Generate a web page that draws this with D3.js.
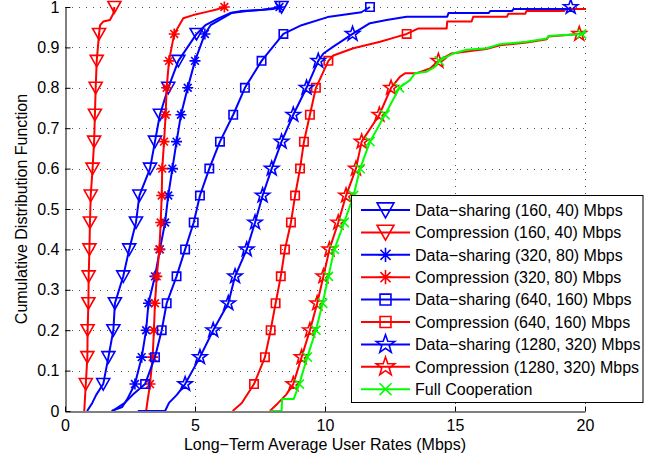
<!DOCTYPE html>
<html>
<head>
<meta charset="utf-8">
<script src="https://cdn.jsdelivr.net/npm/d3@7"></script>
<style>
  body { margin: 0; background: #fff; }
  text { font-family: "Liberation Sans", Arial, Helvetica, sans-serif; }
</style>
</head>
<body>
<div id="cdf"></div>
<script>
// cdf levels where the markers sit (every 10th user out of 150)
var levels = [0, 1/15, 2/15, 3/15, 4/15, 5/15, 6/15, 7/15, 8/15, 9/15, 10/15, 11/15, 12/15, 13/15, 14/15, 15/15];

// tick values
var xTicks = [0, 5, 10, 15, 20];
var yTicks = [0, 0.1, 0.2, 0.3, 0.4, 0.5, 0.6, 0.7, 0.8, 0.9, 1];
var yTickLabels = ["0", "0.1", "0.2", "0.3", "0.4", "0.5", "0.6", "0.7", "0.8", "0.9", "1"];

// legend names
var names = [
    "Data\u2212sharing (160, 40) Mbps",
    "Compression (160, 40) Mbps",
    "Data\u2212sharing (320, 80) Mbps",
    "Compression (320, 80) Mbps",
    "Data\u2212sharing (640, 160) Mbps",
    "Compression (640, 160) Mbps",
    "Data\u2212sharing (1280, 320) Mbps",
    "Compression (1280, 320) Mbps",
    "Full Cooperation"
];

// rate (Mbps) reached at each cdf level, one array per curve
var dsh160 = [0.85, 1.47, 1.67, 1.86, 1.92, 2.24, 2.47, 2.73, 2.86, 3.27, 3.46, 3.65, 3.97, 4.36, 5.06, 8.33];
var cmp160 = [0.74, 0.80, 0.86, 0.87, 0.90, 0.91, 0.94, 0.96, 0.99, 1.06, 1.12, 1.15, 1.18, 1.22, 1.31, 1.90];
var dsh320 = [1.79, 2.69, 2.95, 3.12, 3.21, 3.46, 3.65, 3.85, 3.97, 4.13, 4.29, 4.46, 4.72, 5.00, 5.38, 8.25];
var cmp320 = [3.12, 3.27, 3.37, 3.42, 3.46, 3.53, 3.63, 3.68, 3.72, 3.74, 3.81, 3.87, 3.91, 4.00, 4.20, 6.13];
var dsh640 = [1.82, 3.08, 3.46, 3.72, 3.91, 4.29, 4.62, 4.95, 5.19, 5.55, 5.96, 6.47, 6.92, 7.56, 8.40, 11.73];
var cmp640 = [6.45, 7.27, 7.69, 7.91, 8.10, 8.30, 8.46, 8.69, 8.85, 9.04, 9.19, 9.42, 9.65, 10.13, 13.14, 21.0];
var dsh1280 = [2.80, 4.62, 5.19, 5.70, 6.28, 6.54, 6.99, 7.31, 7.60, 7.95, 8.33, 8.78, 9.29, 9.74, 11.06, 19.45];
var cmp1280 = [7.88, 8.78, 9.10, 9.42, 9.70, 9.94, 10.17, 10.51, 10.81, 11.19, 11.41, 12.09, 12.54, 14.36, 19.78, 21.0];
var fullCoop = [7.90, 9.01, 9.32, 9.65, 9.91, 10.13, 10.36, 10.74, 11.10, 11.35, 11.73, 12.31, 12.86, 14.40, 19.87, 21.0];

// extra staircase breakpoints [rate, cdf] between the marker levels
var dsh160Extra = [[1.05, 0.02], [1.2, 0.04], [5.4, 0.955], [5.9, 0.972], [6.35, 0.985], [6.8, 0.99], [7.6, 0.993]];
var cmp160Extra = [[1.35, 0.955], [1.47, 0.964], [1.73, 0.968], [1.86, 0.984]];
var dsh320Extra = [[2.2, 0.01], [2.4, 0.03], [5.6, 0.955], [6.0, 0.97], [6.4, 0.985], [7.0, 0.99], [8.0, 0.995]];
var cmp320Extra = [[4.55, 0.972], [4.93, 0.98], [5.45, 0.988], [5.83, 0.994]];
var dsh640Extra = [[2.3, 0.02], [2.6, 0.04], [9.1, 0.955], [10.1, 0.975], [11.4, 0.987]];
var cmp640Extra = [[6.8, 0.02], [10.32, 0.88], [11.09, 0.898], [12.12, 0.914], [12.76, 0.926], [13.6, 0.947],
    [14.68, 0.947], [14.7, 0.964], [15.64, 0.964], [15.7, 0.976], [17.0, 0.976], [17.05, 0.983], [17.7, 0.983],
    [17.75, 0.99], [19.2, 0.99], [19.25, 0.995], [20.5, 0.995]];
var dsh1280Extra = [[3.85, 0], [4.0, 0.02], [4.3, 0.04], [9.94, 0.885], [10.32, 0.902], [10.7, 0.918],
    [11.73, 0.96], [12.37, 0.968], [13.14, 0.976], [14.7, 0.976], [14.75, 0.985], [16.3, 0.985], [16.35, 0.99],
    [17.2, 0.99], [17.25, 0.995], [19.4, 0.995]];
var cmp1280Extra = [[8.2, 0.02], [8.5, 0.04], [12.88, 0.827], [13.08, 0.836], [13.53, 0.836], [14.04, 0.848],
    [14.87, 0.885], [15.45, 0.89], [16.2, 0.896], [16.73, 0.905], [17.76, 0.912], [18.53, 0.92], [18.6, 0.927], [20.5, 0.95]];
var fullCoopExtra = [[8.33, 0], [8.35, 0.03], [8.8, 0.03], [13.27, 0.819], [13.46, 0.836], [13.91, 0.84], [14.23, 0.852],
    [14.94, 0.885], [15.45, 0.894], [16.22, 0.898], [16.73, 0.908], [17.76, 0.914], [18.53, 0.922], [18.59, 0.928], [20.5, 0.95]];

// curve table built from the arrays above
var curves = [
    { name: names[0], rates: dsh160, extra: dsh160Extra, color: "#0000ff", marker: "tri" },
    { name: names[1], rates: cmp160, extra: cmp160Extra, color: "#ff0000", marker: "tri" },
    { name: names[2], rates: dsh320, extra: dsh320Extra, color: "#0000ff", marker: "ast" },
    { name: names[3], rates: cmp320, extra: cmp320Extra, color: "#ff0000", marker: "ast" },
    { name: names[4], rates: dsh640, extra: dsh640Extra, color: "#0000ff", marker: "sq" },
    { name: names[5], rates: cmp640, extra: cmp640Extra, color: "#ff0000", marker: "sq" },
    { name: names[6], rates: dsh1280, extra: dsh1280Extra, color: "#0000ff", marker: "star" },
    { name: names[7], rates: cmp1280, extra: cmp1280Extra, color: "#ff0000", marker: "star" },
    { name: names[8], rates: fullCoop, extra: fullCoopExtra, color: "#00ff00", marker: "x" }
];

// size of the page and the axes box
var width = 667, height = 457;
var plot = { left: 65, right: 585, top: 7, bottom: 411 };

var svg = d3.select("#cdf")
    .append("svg")
    .attr("width", width)
    .attr("height", height);

var x = d3.scaleLinear().domain([0, 20]).range([plot.left, plot.right]);
var y = d3.scaleLinear().domain([0, 1]).range([plot.bottom, plot.top]);

// marker shapes, s scales them
function markerPath(type, s) {
    var p = d3.path();
    if (type === "tri") {
        p.moveTo(-6.5 * s, -5.5 * s); p.lineTo(6.5 * s, -5.5 * s); p.lineTo(0, 6 * s); p.closePath();
    } else if (type === "sq") {
        var h = 4.2 * s;
        p.rect(-h, -h, 2 * h, 2 * h);
    } else if (type === "ast") {
        var r = 5.5 * s, d = r * 0.707;
        p.moveTo(-r, 0); p.lineTo(r, 0);
        p.moveTo(0, -r); p.lineTo(0, r);
        p.moveTo(-d, -d); p.lineTo(d, d);
        p.moveTo(-d, d); p.lineTo(d, -d);
    } else if (type === "star") {
        for (var i = 0; i < 10; i++) {
            var rad = (i % 2 === 0 ? 7.5 : 3) * s;
            var a = -Math.PI / 2 + i * Math.PI / 5;
            if (i === 0) p.moveTo(rad * Math.cos(a), rad * Math.sin(a));
            else p.lineTo(rad * Math.cos(a), rad * Math.sin(a));
        }
        p.closePath();
    } else if (type === "x") {
        var q = 4.6 * s;
        p.moveTo(-q, -q); p.lineTo(q, q);
        p.moveTo(-q, q); p.lineTo(q, -q);
    }
    return p.toString();
}

// dotted grid
svg.append("g")
    .selectAll("line")
    .data(xTicks.slice(1))
    .enter()
    .append("line")
    .attr("x1", function (d) { return Math.round(x(d)) + 0.5; })
    .attr("x2", function (d) { return Math.round(x(d)) + 0.5; })
    .attr("y1", y(0))
    .attr("y2", y(1))
    .attr("stroke", "#555")
    .attr("stroke-dasharray", "1,6");
svg.append("g")
    .selectAll("line")
    .data(yTicks.slice(1))
    .enter()
    .append("line")
    .attr("y1", function (d) { return Math.round(y(d)) + 0.5; })
    .attr("y2", function (d) { return Math.round(y(d)) + 0.5; })
    .attr("x1", x(0))
    .attr("x2", x(20))
    .attr("stroke", "#555")
    .attr("stroke-dasharray", "1,6");

// clip the curves to the axes box
svg.append("clipPath")
    .attr("id", "box")
    .append("rect")
    .attr("x", plot.left)
    .attr("y", plot.top - 1)
    .attr("width", plot.right - plot.left + 1)
    .attr("height", plot.bottom - plot.top + 1);

var line = d3.line()
    .x(function (d) { return x(d[0]); })
    .y(function (d) { return y(d[1]); });

curves.forEach(function (c) {
    var pts = c.rates.map(function (r, k) { return [r, levels[k]]; }).concat(c.extra);
    pts.sort(function (a, b) { return a[1] - b[1] || a[0] - b[0]; });

    svg.append("path")
        .datum(pts)
        .attr("clip-path", "url(#box)")
        .attr("fill", "none")
        .attr("stroke", c.color)
        .attr("stroke-width", 2)
        .attr("stroke-linejoin", "round")
        .attr("d", line);

    // markers on levels 1..15 that fall inside the axes
    svg.append("g")
        .selectAll("path")
        .data(c.rates.map(function (r, k) { return [r, levels[k]]; })
            .slice(1)
            .filter(function (d) { return d[0] <= 20; }))
        .enter()
        .append("path")
        .attr("transform", function (d) { return "translate(" + x(d[0]) + "," + y(d[1]) + ")"; })
        .attr("d", markerPath(c.marker, 1))
        .attr("fill", "none")
        .attr("stroke", c.color)
        .attr("stroke-width", 1.6);
});

// axes
var yAxis = svg.append("g")
    .attr("transform", "translate(" + (plot.left + 0.5) + ",0)")
    .call(d3.axisLeft(y).tickValues(yTicks)
        .tickFormat(function (d, i) { return yTickLabels[i]; })
        .tickSize(-5).tickSizeOuter(0).tickPadding(6));
var xAxis = svg.append("g")
    .attr("transform", "translate(0," + (plot.bottom + 0.5) + ")")
    .call(d3.axisBottom(x).tickValues(xTicks)
        .tickSize(-5).tickSizeOuter(0).tickPadding(8));
[yAxis, xAxis].forEach(function (a) {
    a.attr("font-size", 16).attr("font-family", null);
    a.selectAll("text").attr("fill", "#000");
    a.selectAll("line, path").attr("stroke", "#000");
});

// axis titles
svg.append("text")
    .attr("text-anchor", "middle")
    .attr("x", (plot.left + plot.right) / 2)
    .attr("y", 450)
    .attr("font-size", 16)
    .text("Long\u2212Term Average User Rates (Mbps)");
svg.append("text")
    .attr("text-anchor", "middle")
    .attr("transform", "translate(27," + (plot.top + plot.bottom) / 2 + ") rotate(-90)")
    .attr("font-size", 16)
    .text("Cumulative Distribution Function");

// legend
var legend = svg.append("g");
legend.append("rect")
    .attr("x", 351.5)
    .attr("y", 195.5)
    .attr("width", 291.5)
    .attr("height", 207)
    .attr("fill", "#fff")
    .attr("stroke", "#000");

var rows = legend.selectAll(".row")
    .data(curves)
    .enter()
    .append("g")
    .attr("class", "row")
    .attr("transform", function (d, i) { return "translate(0," + (210 + i * 22.4) + ")"; });
rows.append("line")
    .attr("x1", 361)
    .attr("x2", 410)
    .attr("stroke", function (d) { return d.color; })
    .attr("stroke-width", 2);
rows.append("path")
    .attr("transform", "translate(385.5,0)")
    .attr("d", function (d) { return markerPath(d.marker, 1.3); })
    .attr("fill", "none")
    .attr("stroke", function (d) { return d.color; })
    .attr("stroke-width", 1.6);
rows.append("text")
    .attr("x", 415)
    .attr("dy", "0.36em")
    .attr("font-size", 16)
    .text(function (d) { return d.name; });
</script>
</body>
</html>
